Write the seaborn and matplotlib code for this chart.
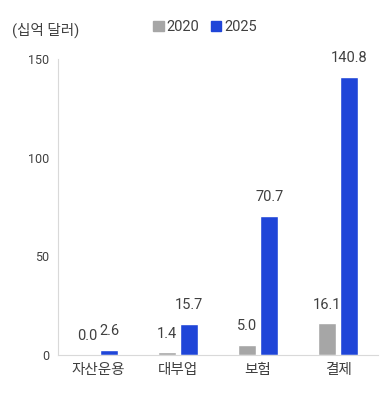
import pandas as pd
import matplotlib.pyplot as plt
import seaborn as sns

categories = ["자산운용", "대부업", "보험", "결제"]
years = ["2020", "2025"]
values_2020 = [0.0, 1.4, 5.0, 16.1]
values_2025 = [2.6, 15.7, 70.7, 140.8]
colors = ["#a6a6a6", "#1f45d8"]

df = pd.DataFrame({
    "category": categories * 2,
    "year": [years[0]] * 4 + [years[1]] * 4,
    "value": values_2020 + values_2025,
})

sns.set_style("white")
plt.rcParams['font.family'] = ['Roboto', 'Noto Sans CJK KR', 'DejaVu Sans']

fig = plt.figure(figsize=(3.87, 4.11), dpi=100)
ax = fig.add_axes([0.15, 0.136, 0.827, 0.72])

sns.barplot(data=df, x="category", y="value", hue="year", palette=colors,
            width=0.56, gap=0.2, saturation=1, ax=ax, legend=False)

for cont in ax.containers:
    for bar in cont:
        h = bar.get_height()
        ax.text(bar.get_x() + bar.get_width() / 2, h + 6, f"{h:.1f}",
                ha="center", va="bottom", fontsize=10.5, color="#404040")

ax.set_ylim(0, 150)
ax.set_xlim(-0.5, 3.5)
ax.set_yticks([0, 50, 100, 150])
ax.set_xlabel("")
ax.set_ylabel("")
ax.tick_params(axis="y", labelsize=9, colors="#404040", length=3, color="#d9d9d9")
ax.tick_params(axis="x", labelsize=10.5, colors="#404040", length=0, pad=6)
for s in ["top", "right"]:
    ax.spines[s].set_visible(False)
for s in ["left", "bottom"]:
    ax.spines[s].set_color("#d9d9d9")

handles = [plt.Rectangle((0, 0), 1, 1, color=c) for c in colors]
fig.legend(handles, years, loc="center", bbox_to_anchor=(0.53, 0.935), ncol=2,
           frameon=False, fontsize=10.5, handlelength=0.7, handleheight=0.7,
           handletextpad=0.2, columnspacing=0.8, labelcolor="#404040")
fig.text(0.03, 0.927, "(십억 달러)", fontsize=10.5, color="#404040", va="center")

fig.savefig("out.png", dpi=100)
